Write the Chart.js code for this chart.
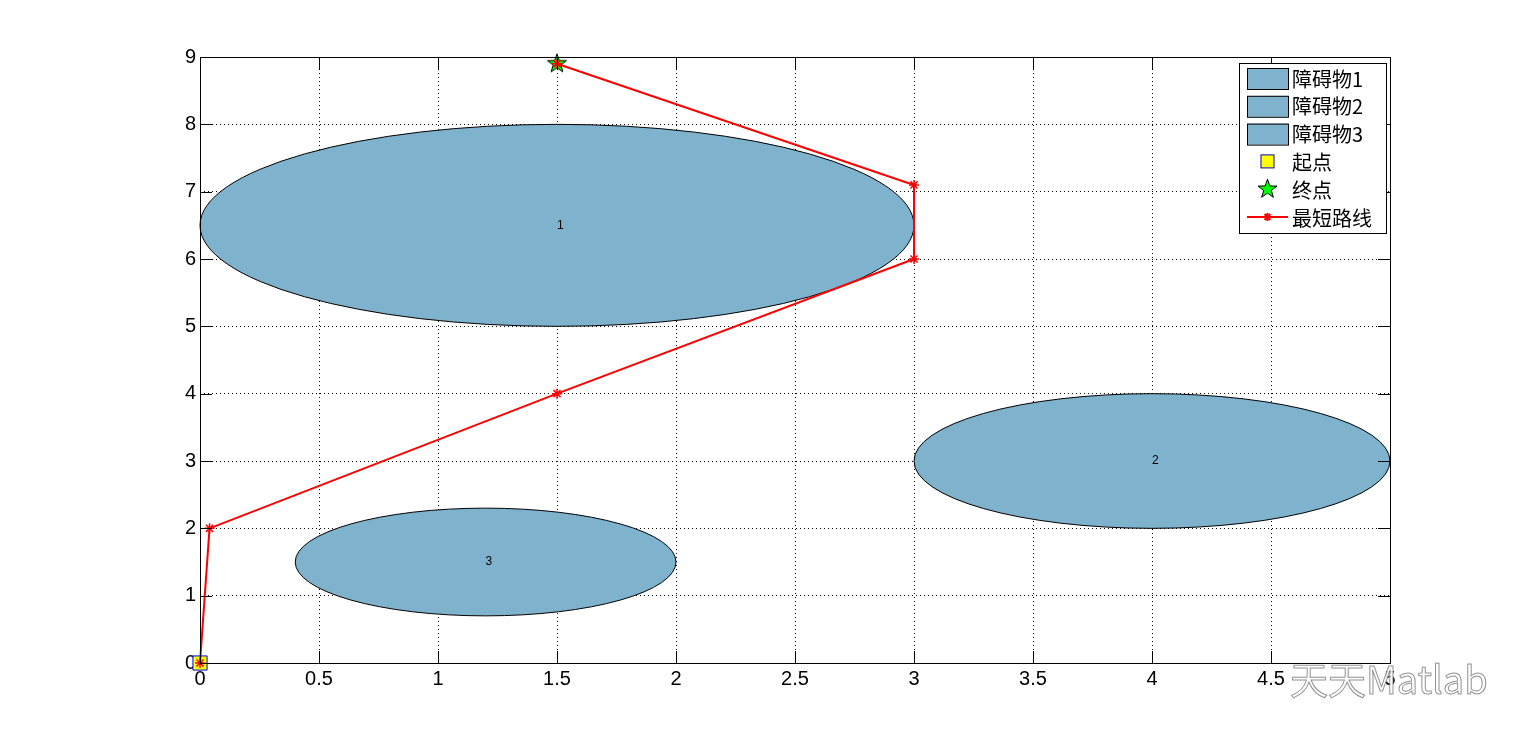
<!DOCTYPE html>
<html>
<head>
<meta charset="utf-8">
<script src="https://cdn.jsdelivr.net/npm/chart.js@4/dist/chart.umd.min.js"></script>
<style>
  html, body { margin: 0; padding: 0; background: #fff; }
  #wrap { position: relative; width: 1537px; height: 746px; }
</style>
</head>
<body>
<div id="wrap"><canvas id="chartCanvas"></canvas></div>
<script>
// obstacles (circles in data units)
const obsNames = ["障碍物1", "障碍物2", "障碍物3"];
const obsLabels = ["1", "2", "3"];
const obsX = [1.5, 4, 1.2];
const obsY = [6.5, 3, 1.5];
const obsR = [1.5, 1, 0.8];

// shortest path
const pathX = [0, 0.04, 1.5, 3, 3, 1.5];
const pathY = [0, 2, 4, 6, 7.1, 8.9];

const startPt = { x: 0, y: 0 };
const endPt = { x: 1.5, y: 8.9 };

const xTicks = [0, 0.5, 1, 1.5, 2, 2.5, 3, 3.5, 4, 4.5, 5];
const yTicks = [0, 1, 2, 3, 4, 5, 6, 7, 8, 9];

const legendLabels = ["障碍物1", "障碍物2", "障碍物3", "起点", "终点", "最短路线"];

const obsFill = "rgb(127,178,204)";
const tickFont = { family: "'Liberation Sans', Arial, sans-serif", size: 20 };
const cjkFont = "20px 'Noto Sans CJK SC', sans-serif";

function makeStar(r, fill) {
  const c = document.createElement("canvas");
  const s = Math.ceil(r * 2 + 4);
  c.width = s;
  c.height = s;
  const g = c.getContext("2d");
  drawStar(g, s / 2, s / 2, r, fill);
  return c;
}

function drawStar(g, cx, cy, r, fill) {
  const ri = r * 0.4;
  g.beginPath();
  for (let i = 0; i < 10; i++) {
    const rad = i % 2 === 0 ? r : ri;
    const a = -Math.PI / 2 + (i * Math.PI) / 5;
    const px = cx + rad * Math.cos(a);
    const py = cy + rad * Math.sin(a);
    if (i === 0) g.moveTo(px, py);
    else g.lineTo(px, py);
  }
  g.closePath();
  g.fillStyle = fill;
  g.fill();
  g.strokeStyle = "#000";
  g.lineWidth = 1;
  g.stroke();
}

const starImg = makeStar(10, "#00ff00");

const obstaclePlugin = {
  id: "obstacles",
  beforeDatasetsDraw(chart) {
    const { ctx, scales } = chart;
    const xs = scales.x, ys = scales.y;
    ctx.save();
    obsX.forEach((cx, i) => {
      const px = xs.getPixelForValue(cx);
      const py = ys.getPixelForValue(obsY[i]);
      const rx = Math.abs(xs.getPixelForValue(cx + obsR[i]) - px);
      const ry = Math.abs(ys.getPixelForValue(obsY[i] + obsR[i]) - py);
      ctx.beginPath();
      ctx.ellipse(px, py, rx, ry, 0, 0, Math.PI * 2);
      ctx.fillStyle = obsFill;
      ctx.fill();
      ctx.strokeStyle = "#000";
      ctx.lineWidth = 1;
      ctx.stroke();
      ctx.fillStyle = "#000";
      ctx.font = "12px 'Liberation Sans', Arial, sans-serif";
      ctx.textAlign = "left";
      ctx.textBaseline = "middle";
      ctx.fillText(obsLabels[i], px, py);
    });
    ctx.restore();
  },
  afterDatasetsDraw(chart) {
    const { ctx, chartArea: a, scales } = chart;
    ctx.save();
    ctx.strokeStyle = "#000";
    ctx.lineWidth = 1;
    ctx.beginPath();
    xTicks.forEach((v) => {
      const px = Math.round(scales.x.getPixelForValue(v)) + 0.5;
      ctx.moveTo(px, a.bottom);
      ctx.lineTo(px, a.bottom - 12);
      ctx.moveTo(px, a.top);
      ctx.lineTo(px, a.top + 12);
    });
    yTicks.forEach((v) => {
      const py = Math.round(scales.y.getPixelForValue(v)) + 0.5;
      ctx.moveTo(a.left, py);
      ctx.lineTo(a.left + 12, py);
      ctx.moveTo(a.right, py);
      ctx.lineTo(a.right - 12, py);
    });
    ctx.stroke();
    ctx.strokeRect(Math.round(a.left) + 0.5, Math.round(a.top) + 0.5,
      Math.round(a.right - a.left), Math.round(a.bottom - a.top));
    ctx.restore();
  },
  afterDraw(chart) {
    const { ctx, chartArea: a } = chart;
    ctx.save();
    // legend box
    const bx = a.right - 151, by = a.top + 6, bw = 147, bh = 170;
    ctx.fillStyle = "#fff";
    ctx.fillRect(bx, by, bw, bh);
    ctx.strokeStyle = "#000";
    ctx.lineWidth = 1;
    ctx.strokeRect(bx + 0.5, by + 0.5, bw, bh);
    ctx.font = cjkFont;
    ctx.textBaseline = "middle";
    ctx.textAlign = "left";
    legendLabels.forEach((lab, i) => {
      const cy = by + 15 + i * 27.8;
      const sx = bx + 8, sw = 41;
      if (i < 3) {
        ctx.fillStyle = obsFill;
        ctx.fillRect(sx, cy - 10, sw, 21);
        ctx.strokeStyle = "#000";
        ctx.strokeRect(sx + 0.5, cy - 9.5, sw, 21);
      } else if (i === 3) {
        ctx.fillStyle = "#ffff00";
        ctx.fillRect(sx + sw / 2 - 7, cy - 7, 14, 14);
        ctx.strokeStyle = "#0000ff";
        ctx.strokeRect(sx + sw / 2 - 6.5, cy - 6.5, 13, 13);
      } else if (i === 4) {
        drawStar(ctx, sx + sw / 2, cy, 10, "#00ff00");
      } else {
        ctx.strokeStyle = "#ff0000";
        ctx.lineWidth = 2;
        ctx.beginPath();
        ctx.moveTo(sx, cy);
        ctx.lineTo(sx + sw, cy);
        ctx.moveTo(sx + sw / 2, cy - 4);
        ctx.lineTo(sx + sw / 2, cy + 4);
        ctx.moveTo(sx + sw / 2 - 3, cy - 3);
        ctx.lineTo(sx + sw / 2 + 3, cy + 3);
        ctx.moveTo(sx + sw / 2 + 3, cy - 3);
        ctx.lineTo(sx + sw / 2 - 3, cy + 3);
        ctx.stroke();
        ctx.lineWidth = 1;
      }
      ctx.fillStyle = "#000";
      ctx.fillText(lab, bx + 53, cy + 1);
    });
    // watermark
    ctx.font = "38px 'Noto Sans CJK SC', sans-serif";
    ctx.textBaseline = "middle";
    ctx.lineWidth = 1;
    ctx.strokeStyle = "rgba(120,120,120,0.8)";
    ctx.fillStyle = "rgba(255,255,255,0.9)";
    ctx.fillText("天天Matlab", 1290, 680);
    ctx.strokeText("天天Matlab", 1290, 680);
    ctx.restore();
  },
};

const ctx = document.getElementById("chartCanvas").getContext("2d");
window.currentChart = new Chart(ctx, {
  type: "scatter",
  data: {
    datasets: [
      {
        label: "最短路线",
        data: pathX.map((x, i) => ({ x, y: pathY[i] })),
        showLine: true,
        clip: false,
        borderColor: "#ff0000",
        borderWidth: 2,
        pointStyle: "star",
        pointRadius: 5,
        pointBorderColor: "#ff0000",
        pointBorderWidth: 1.5,
        pointBackgroundColor: "#ff0000",
      },
      {
        label: "起点",
        data: [startPt],
        clip: false,
        pointStyle: "rect",
        pointRadius: 10,
        pointBackgroundColor: "#ffff00",
        pointBorderColor: "#0000ff",
        pointBorderWidth: 1,
      },
      {
        label: "终点",
        data: [endPt],
        clip: false,
        pointStyle: starImg,
      },
    ],
  },
  options: {
    responsive: true,
    maintainAspectRatio: false,
    animation: false,
    layout: { padding: { left: 160, right: 147, top: 57, bottom: 43 } },
    plugins: {
      legend: { display: false },
      tooltip: { enabled: false },
    },
    scales: {
      x: {
        type: "linear",
        min: 0,
        max: 5,
        afterBuildTicks: (s) => { s.ticks = xTicks.map((v) => ({ value: v })); },
        afterFit: (s) => { s.height = 40; },
        ticks: { color: "#000", font: tickFont, padding: 4, maxRotation: 0, autoSkip: false, callback: (v) => String(v) },
        grid: { color: "#000", lineWidth: 1, drawTicks: false },
        border: { display: false, dash: [1, 3] },
      },
      y: {
        type: "linear",
        min: 0,
        max: 9,
        afterBuildTicks: (s) => { s.ticks = yTicks.map((v) => ({ value: v })); },
        afterFit: (s) => { s.width = 40; },
        ticks: { color: "#000", font: tickFont, padding: 4, autoSkip: false, callback: (v) => String(v) },
        grid: { color: "#000", lineWidth: 1, drawTicks: false },
        border: { display: false, dash: [1, 3] },
      },
    },
  },
  plugins: [obstaclePlugin],
});
</script>
</body>
</html>
